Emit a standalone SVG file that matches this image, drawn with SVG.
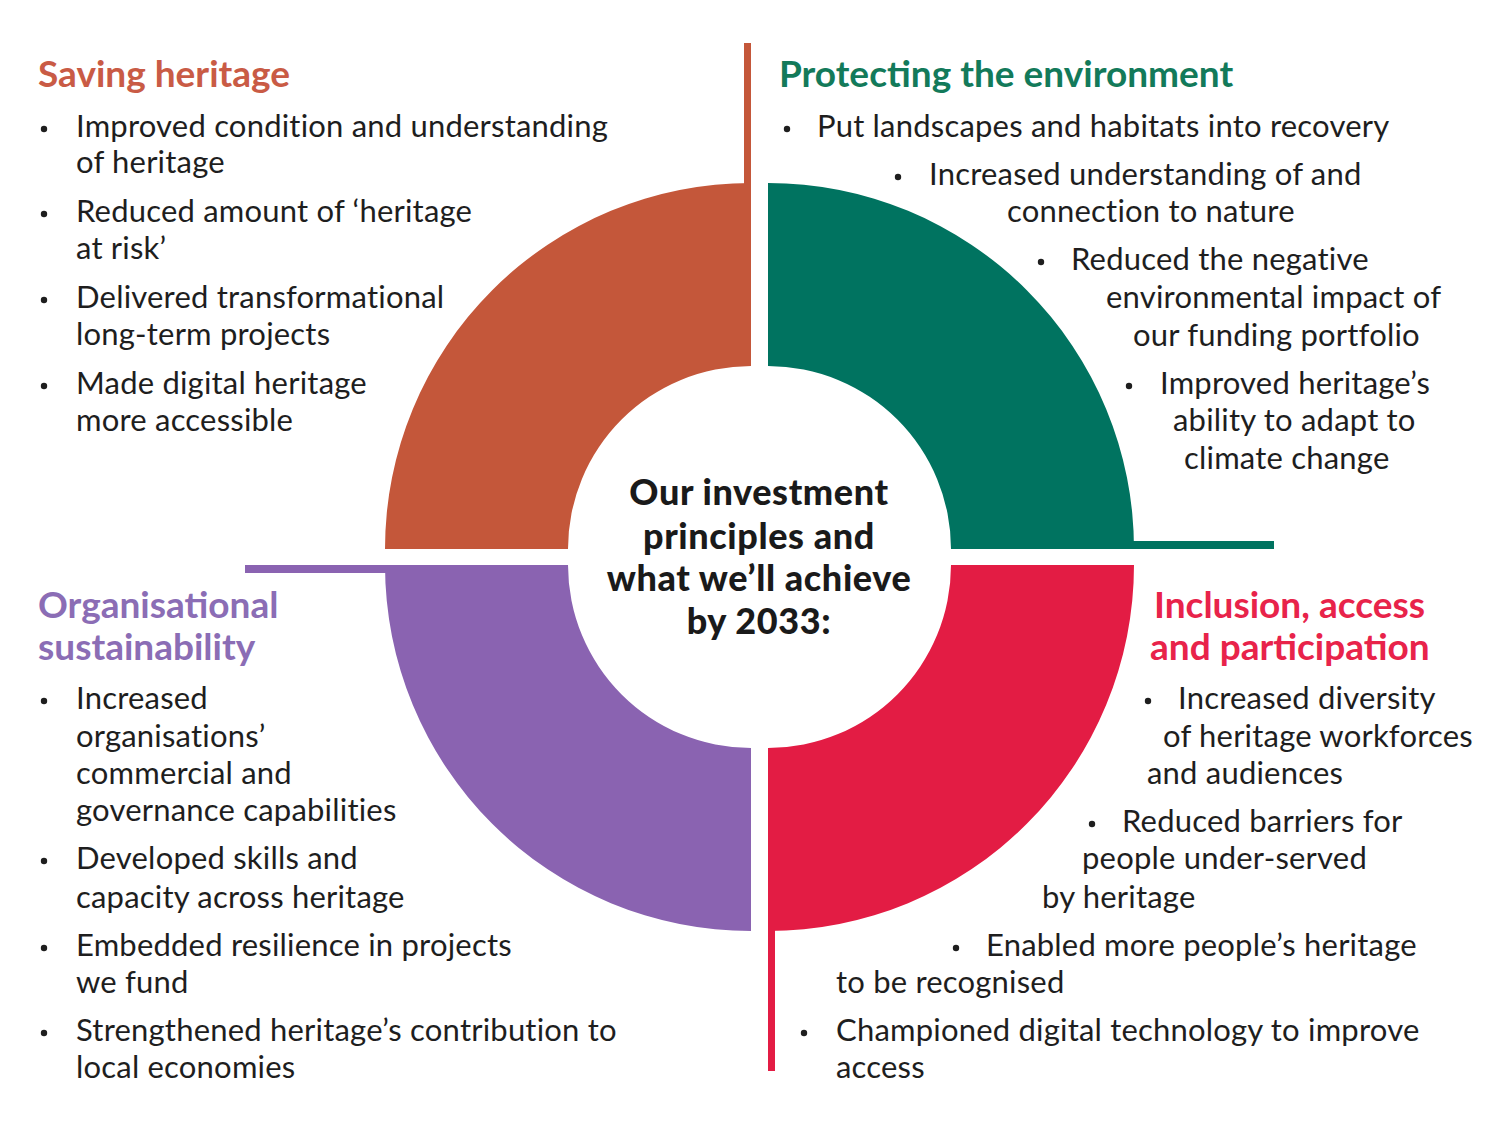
<svg xmlns="http://www.w3.org/2000/svg" width="1510" height="1124" viewBox="0 0 1510 1124">
  <style>
    .t { font-family: Lato, "Liberation Sans", sans-serif; font-size: 31px; letter-spacing: 0.2px; fill: #1e1e1e; }
    .h { font-family: Lato, "Liberation Sans", sans-serif; font-size: 37px; font-weight: 700; }
    .c { font-family: Lato, "Liberation Sans", sans-serif; font-size: 36px; font-weight: 900; letter-spacing: 0.6px; fill: #1a1a1a; text-anchor: middle; }
    .b { fill: #1e1e1e; }
    .or { fill: #C4573A; }
    .gr { fill: #007360; }
    .pu { fill: #8A63B1; }
    .re { fill: #E31C44; }
    .hor { fill: #C95B45; }
    .hgr { fill: #137A5A; }
    .hpu { fill: #8B6DB5; }
    .hre { fill: #E8234A; }
  </style>
  <rect width="1510" height="1124" fill="#ffffff"/>

  <g id="ring">
    <g id="saving-heritage-segment">
      <path class="or" d="M385,549 A366,366 0 0 1 751,183 L751,366 A183,183 0 0 0 568,549 Z"/>
    </g>
    <g id="environment-segment">
      <path class="gr" d="M768,183 A366,366 0 0 1 1134,549 L951,549 A183,183 0 0 0 768,366 Z"/>
    </g>
    <g id="organisational-segment">
      <path class="pu" d="M385,565 L568,565 A183,183 0 0 0 751,748 L751,931 A366,366 0 0 1 385,565 Z"/>
    </g>
    <g id="inclusion-segment">
      <path class="re" d="M1134,565 A366,366 0 0 1 768,931 L768,748 A183,183 0 0 0 951,565 Z"/>
    </g>
  </g>

  <g id="connectors">
    <rect class="or" x="744" y="43" width="7" height="141"/>
    <rect class="gr" x="1133" y="541" width="141" height="8"/>
    <rect class="pu" x="245" y="565" width="141" height="8"/>
    <rect class="re" x="768" y="930" width="7" height="141"/>
  </g>

  <g id="center">
    <text class="c" x="759" y="505">Our investment</text>
    <text class="c" x="759" y="549">principles and</text>
    <text class="c" x="759" y="591">what we’ll achieve</text>
    <text class="c" x="759" y="634">by 2033:</text>
  </g>

  <g id="saving-heritage">
    <text class="h hor" x="38" y="87">Saving heritage</text>
    <circle class="b" cx="44" cy="129" r="3.2"/>
    <text class="t" x="76" y="137">Improved condition and understanding</text>
    <text class="t" x="76" y="173">of heritage</text>
    <circle class="b" cx="44" cy="214" r="3.2"/>
    <text class="t" x="76" y="222">Reduced amount of ‘heritage</text>
    <text class="t" x="76" y="259">at risk’</text>
    <circle class="b" cx="44" cy="300" r="3.2"/>
    <text class="t" x="76" y="308">Delivered transformational</text>
    <text class="t" x="76" y="345">long-term projects</text>
    <circle class="b" cx="44" cy="386" r="3.2"/>
    <text class="t" x="76" y="394">Made digital heritage</text>
    <text class="t" x="76" y="431">more accessible</text>
  </g>

  <g id="protecting-environment">
    <text class="h hgr" x="779" y="87">Protecting the environment</text>
    <circle class="b" cx="787" cy="129" r="3.2"/>
    <text class="t" x="817" y="137">Put landscapes and habitats into recovery</text>
    <circle class="b" cx="898" cy="177" r="3.2"/>
    <text class="t" x="929" y="185">Increased understanding of and</text>
    <text class="t" x="1007" y="222">connection to nature</text>
    <circle class="b" cx="1041" cy="262" r="3.2"/>
    <text class="t" x="1071" y="270">Reduced the negative</text>
    <text class="t" x="1106" y="308">environmental impact of</text>
    <text class="t" x="1133" y="346">our funding portfolio</text>
    <circle class="b" cx="1129" cy="386" r="3.2"/>
    <text class="t" x="1160" y="394">Improved heritage’s</text>
    <text class="t" x="1173" y="431">ability to adapt to</text>
    <text class="t" x="1184" y="469">climate change</text>
  </g>

  <g id="organisational-sustainability">
    <text class="h hpu" x="38" y="618">Organisational</text>
    <text class="h hpu" x="38" y="660">sustainability</text>
    <circle class="b" cx="44" cy="701" r="3.2"/>
    <text class="t" x="76" y="709">Increased</text>
    <text class="t" x="76" y="747">organisations’</text>
    <text class="t" x="76" y="784">commercial and</text>
    <text class="t" x="76" y="821">governance capabilities</text>
    <circle class="b" cx="44" cy="861" r="3.2"/>
    <text class="t" x="76" y="869">Developed skills and</text>
    <text class="t" x="76" y="908">capacity across heritage</text>
    <circle class="b" cx="44" cy="948" r="3.2"/>
    <text class="t" x="76" y="956">Embedded resilience in projects</text>
    <text class="t" x="76" y="993">we fund</text>
    <circle class="b" cx="44" cy="1033" r="3.2"/>
    <text class="t" x="76" y="1041">Strengthened heritage’s contribution to</text>
    <text class="t" x="76" y="1078">local economies</text>
  </g>

  <g id="inclusion-access-participation">
    <text class="h hre" x="1154" y="618">Inclusion, access</text>
    <text class="h hre" x="1150" y="660">and participation</text>
    <circle class="b" cx="1148" cy="701" r="3.2"/>
    <text class="t" x="1178" y="709">Increased diversity</text>
    <text class="t" x="1163" y="747">of heritage workforces</text>
    <text class="t" x="1147" y="784">and audiences</text>
    <circle class="b" cx="1092" cy="824" r="3.2"/>
    <text class="t" x="1122" y="832">Reduced barriers for</text>
    <text class="t" x="1082" y="869">people under-served</text>
    <text class="t" x="1042" y="908">by heritage</text>
    <circle class="b" cx="956" cy="948" r="3.2"/>
    <text class="t" x="986" y="956">Enabled more people’s heritage</text>
    <text class="t" x="836" y="993">to be recognised</text>
    <circle class="b" cx="804" cy="1033" r="3.2"/>
    <text class="t" x="836" y="1041">Championed digital technology to improve</text>
    <text class="t" x="836" y="1078">access</text>
  </g>
</svg>
